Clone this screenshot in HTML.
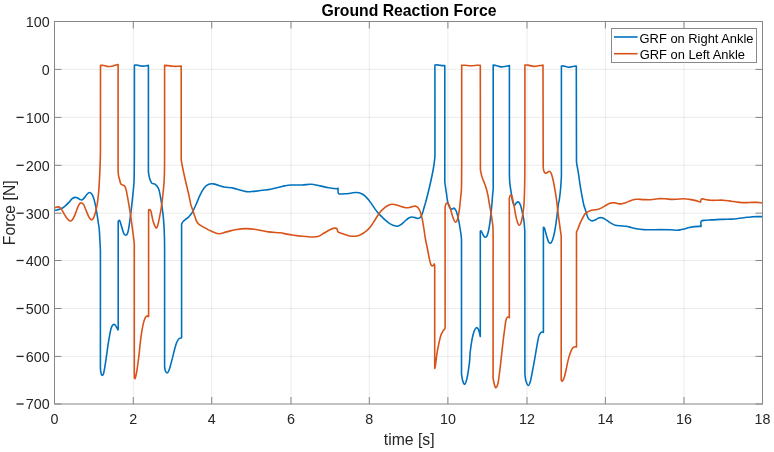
<!DOCTYPE html>
<html><head><meta charset="utf-8"><style>
html,body{margin:0;padding:0;background:#fff;}
svg{display:block;will-change:transform;}
text{font-family:"Liberation Sans", sans-serif;}
</style></head><body>
<svg width="774" height="452" viewBox="0 0 774 452">
<rect x="0" y="0" width="774" height="452" fill="#fff"/>
<g>
<line x1="133.3" y1="21.5" x2="133.3" y2="404.0" stroke="#262626" stroke-opacity="0.085" stroke-width="1"/>
<line x1="211.7" y1="21.5" x2="211.7" y2="404.0" stroke="#262626" stroke-opacity="0.085" stroke-width="1"/>
<line x1="291.0" y1="21.5" x2="291.0" y2="404.0" stroke="#262626" stroke-opacity="0.085" stroke-width="1"/>
<line x1="369.3" y1="21.5" x2="369.3" y2="404.0" stroke="#262626" stroke-opacity="0.085" stroke-width="1"/>
<line x1="447.9" y1="21.5" x2="447.9" y2="404.0" stroke="#262626" stroke-opacity="0.085" stroke-width="1"/>
<line x1="527.0" y1="21.5" x2="527.0" y2="404.0" stroke="#262626" stroke-opacity="0.085" stroke-width="1"/>
<line x1="605.4" y1="21.5" x2="605.4" y2="404.0" stroke="#262626" stroke-opacity="0.085" stroke-width="1"/>
<line x1="684.0" y1="21.5" x2="684.0" y2="404.0" stroke="#262626" stroke-opacity="0.085" stroke-width="1"/>
<line x1="54.5" y1="69.4" x2="762.5" y2="69.4" stroke="#262626" stroke-opacity="0.085" stroke-width="1"/>
<line x1="54.5" y1="117.4" x2="762.5" y2="117.4" stroke="#262626" stroke-opacity="0.085" stroke-width="1"/>
<line x1="54.5" y1="165.3" x2="762.5" y2="165.3" stroke="#262626" stroke-opacity="0.085" stroke-width="1"/>
<line x1="54.5" y1="213.2" x2="762.5" y2="213.2" stroke="#262626" stroke-opacity="0.085" stroke-width="1"/>
<line x1="54.5" y1="260.5" x2="762.5" y2="260.5" stroke="#262626" stroke-opacity="0.085" stroke-width="1"/>
<line x1="54.5" y1="308.5" x2="762.5" y2="308.5" stroke="#262626" stroke-opacity="0.085" stroke-width="1"/>
<line x1="54.5" y1="356.4" x2="762.5" y2="356.4" stroke="#262626" stroke-opacity="0.085" stroke-width="1"/>
</g>
<defs><clipPath id="c"><rect x="54.5" y="21.5" width="708.0" height="382.5"/></clipPath></defs>
<g fill="none" stroke-linejoin="round" stroke-linecap="round" stroke-width="1.6" clip-path="url(#c)">
<path stroke="#0072BD" d="M54.50,210.30 C54.92,210.25 56.08,210.22 57.00,210.00 C57.92,209.78 59.02,209.37 60.00,209.00 C60.98,208.63 61.92,208.40 62.90,207.80 C63.88,207.20 64.90,206.30 65.90,205.40 C66.90,204.50 67.90,203.48 68.90,202.40 C69.90,201.32 70.90,199.73 71.90,198.90 C72.90,198.07 73.98,197.57 74.90,197.40 C75.82,197.23 76.57,197.57 77.40,197.90 C78.23,198.23 79.17,199.07 79.90,199.40 C80.63,199.73 81.07,200.15 81.80,199.90 C82.53,199.65 83.47,198.80 84.30,197.90 C85.13,197.00 85.97,195.40 86.80,194.50 C87.63,193.60 88.55,192.67 89.30,192.50 C90.05,192.33 90.72,192.93 91.30,193.50 C91.88,194.07 92.30,194.75 92.80,195.90 C93.30,197.05 93.80,198.57 94.30,200.40 C94.80,202.23 95.30,204.33 95.80,206.90 C96.30,209.47 96.88,213.15 97.30,215.80 C97.72,218.45 97.97,220.43 98.30,222.80 C98.63,225.17 98.95,225.47 99.30,230.00 C99.65,234.53 100.22,246.67 100.40,250.00 L100.40,368.00 C100.48,368.75 100.63,371.28 100.90,372.50 C101.17,373.72 101.57,375.10 102.00,375.30 C102.43,375.50 103.00,375.25 103.50,373.70 C104.00,372.15 104.48,369.08 105.00,366.00 C105.52,362.92 106.08,358.80 106.60,355.20 C107.12,351.60 107.58,347.75 108.10,344.40 C108.62,341.05 109.18,337.82 109.70,335.10 C110.22,332.38 110.62,329.85 111.20,328.10 C111.78,326.35 112.60,325.18 113.20,324.60 C113.80,324.02 114.23,324.13 114.80,324.60 C115.37,325.07 116.08,326.55 116.60,327.40 C117.12,328.25 117.63,329.32 117.90,329.70 C118.17,330.08 118.15,329.70 118.20,329.70 L118.20,221.50 C118.45,221.35 119.13,219.77 119.70,220.60 C120.27,221.43 120.95,224.40 121.60,226.50 C122.25,228.60 122.93,231.75 123.60,233.20 C124.27,234.65 124.93,235.20 125.60,235.20 C126.27,235.20 127.03,234.65 127.60,233.20 C128.17,231.75 128.55,229.17 129.00,226.50 C129.45,223.83 129.87,220.52 130.30,217.20 C130.73,213.88 131.15,210.58 131.60,206.60 C132.05,202.62 132.58,197.73 133.00,193.30 C133.42,188.87 133.87,187.22 134.10,180.00 C134.33,172.78 134.35,155.00 134.40,150.00 L134.40,65.20 C134.83,65.17 135.90,64.87 137.00,65.00 C138.10,65.13 139.67,65.83 141.00,66.00 C142.33,66.17 143.77,66.10 145.00,66.00 C146.23,65.90 147.83,65.50 148.40,65.40 L148.40,172.00 C148.62,173.13 149.12,176.93 149.70,178.80 C150.28,180.67 150.97,182.28 151.90,183.20 C152.83,184.12 154.18,183.38 155.30,184.30 C156.42,185.22 157.68,186.30 158.60,188.70 C159.52,191.10 160.07,194.45 160.80,198.70 C161.53,202.95 162.45,209.42 163.00,214.20 C163.55,218.98 163.85,223.10 164.10,227.40 C164.35,231.70 164.42,236.23 164.50,240.00 C164.58,243.77 164.58,248.33 164.60,250.00 L164.60,366.00 C164.70,366.75 164.75,369.33 165.20,370.50 C165.65,371.67 166.65,373.08 167.30,373.00 C167.95,372.92 168.50,371.52 169.10,370.00 C169.70,368.48 170.28,366.13 170.90,363.90 C171.52,361.67 172.18,359.03 172.80,356.60 C173.42,354.17 174.00,351.53 174.60,349.30 C175.20,347.07 175.80,344.82 176.40,343.20 C177.00,341.58 177.60,340.45 178.20,339.60 C178.80,338.75 179.43,338.40 180.00,338.10 C180.57,337.80 181.33,337.85 181.60,337.80 L181.60,224.50 C181.70,224.22 181.93,223.30 182.20,222.80 C182.47,222.30 182.63,222.08 183.20,221.50 C183.77,220.92 184.75,220.00 185.60,219.30 C186.45,218.60 187.42,218.13 188.30,217.30 C189.18,216.47 190.13,215.30 190.90,214.30 C191.67,213.30 192.23,212.52 192.90,211.30 C193.57,210.08 194.30,208.30 194.90,207.00 C195.50,205.70 195.67,205.43 196.50,203.50 C197.33,201.57 198.60,198.03 199.90,195.40 C201.20,192.77 202.82,189.55 204.30,187.70 C205.78,185.85 207.32,184.93 208.80,184.30 C210.28,183.67 211.55,183.72 213.20,183.90 C214.85,184.08 216.87,184.88 218.70,185.40 C220.53,185.92 221.80,186.55 224.20,187.00 C226.60,187.45 230.52,187.62 233.10,188.10 C235.68,188.58 237.48,189.32 239.70,189.90 C241.92,190.48 244.18,191.35 246.40,191.60 C248.62,191.85 250.42,191.62 253.00,191.40 C255.58,191.18 258.95,190.67 261.90,190.30 C264.85,189.93 267.68,189.75 270.70,189.20 C273.72,188.65 277.72,187.55 280.00,187.00 C282.28,186.45 282.55,186.23 284.40,185.90 C286.25,185.57 288.15,185.15 291.10,185.00 C294.05,184.85 298.78,185.12 302.10,185.00 C305.42,184.88 308.05,184.15 311.00,184.30 C313.95,184.45 316.85,185.33 319.80,185.90 C322.75,186.47 325.82,187.22 328.70,187.70 C331.58,188.18 335.55,188.70 337.10,188.80 C338.65,188.90 337.75,187.50 338.00,188.30 C338.25,189.10 337.57,192.68 338.60,193.60 C339.63,194.52 342.17,193.87 344.20,193.80 C346.23,193.73 349.00,193.42 350.80,193.20 C352.60,192.98 353.63,192.57 355.00,192.50 C356.37,192.43 357.67,192.47 359.00,192.80 C360.33,193.13 361.68,193.65 363.00,194.50 C364.32,195.35 365.58,196.50 366.90,197.90 C368.22,199.30 369.57,201.07 370.90,202.90 C372.23,204.73 373.57,207.07 374.90,208.90 C376.23,210.73 377.57,212.42 378.90,213.90 C380.23,215.38 381.88,216.82 382.90,217.80 C383.92,218.78 383.92,218.88 385.00,219.80 C386.08,220.72 387.93,222.35 389.40,223.30 C390.87,224.25 392.47,225.02 393.80,225.50 C395.13,225.98 396.22,226.35 397.40,226.20 C398.58,226.05 399.72,225.38 400.90,224.60 C402.08,223.82 403.32,222.52 404.50,221.50 C405.68,220.48 406.83,219.25 408.00,218.50 C409.17,217.75 410.32,217.15 411.50,217.00 C412.68,216.85 414.07,217.35 415.10,217.60 C416.13,217.85 416.88,218.50 417.70,218.50 C418.52,218.50 419.40,218.05 420.00,217.60 C420.60,217.15 420.87,216.62 421.30,215.80 C421.73,214.98 422.17,213.95 422.60,212.70 C423.03,211.45 423.38,210.08 423.90,208.30 C424.42,206.52 425.10,204.17 425.70,202.00 C426.30,199.83 426.87,197.80 427.50,195.30 C428.13,192.80 428.83,189.88 429.50,187.00 C430.17,184.12 430.87,181.00 431.50,178.00 C432.13,175.00 432.75,172.33 433.30,169.00 C433.85,165.67 434.53,161.17 434.80,158.00 C435.07,154.83 434.93,151.33 434.95,150.00 L434.90,65.00 C435.17,64.97 435.65,64.75 436.50,64.80 C437.35,64.85 439.00,65.17 440.00,65.30 C441.00,65.43 441.70,65.55 442.50,65.60 C443.30,65.65 444.42,65.60 444.80,65.60 L444.80,182.10 C445.07,183.95 445.95,190.07 446.40,193.20 C446.85,196.33 446.95,198.50 447.50,200.90 C448.05,203.30 448.97,206.23 449.70,207.60 C450.43,208.97 451.17,209.00 451.90,209.10 C452.63,209.20 453.37,207.83 454.10,208.20 C454.83,208.57 455.57,209.38 456.30,211.30 C457.03,213.22 457.75,216.08 458.50,219.70 C459.25,223.32 460.30,229.68 460.80,233.00 C461.30,236.32 461.38,238.50 461.50,239.60 L461.50,373.80 C461.67,374.83 462.02,378.23 462.50,380.00 C462.98,381.77 463.68,384.55 464.40,384.40 C465.12,384.25 465.97,382.63 466.80,379.10 C467.63,375.57 468.83,367.72 469.40,363.20 C469.97,358.68 469.75,356.02 470.20,352.00 C470.65,347.98 471.45,342.57 472.10,339.10 C472.75,335.63 473.43,333.08 474.10,331.20 C474.77,329.32 475.47,328.25 476.10,327.80 C476.73,327.35 477.35,327.72 477.90,328.50 C478.45,329.28 479.00,331.17 479.40,332.50 C479.80,333.83 480.15,335.83 480.30,336.50 L480.30,231.20 C480.47,231.20 480.80,230.53 481.30,231.20 C481.80,231.87 482.63,234.20 483.30,235.20 C483.97,236.20 484.68,237.08 485.30,237.20 C485.92,237.32 486.45,237.02 487.00,235.90 C487.55,234.78 488.12,232.72 488.60,230.50 C489.08,228.28 489.50,225.47 489.90,222.60 C490.30,219.73 490.67,216.40 491.00,213.30 C491.33,210.20 491.63,207.05 491.90,204.00 C492.17,200.95 492.38,197.37 492.60,195.00 C492.82,192.63 493.10,190.67 493.20,189.80 L493.20,65.10 C493.67,65.17 494.70,65.20 496.00,65.50 C497.30,65.80 499.33,66.77 501.00,66.90 C502.67,67.03 504.60,66.52 506.00,66.30 C507.40,66.08 508.83,65.72 509.40,65.60 L509.40,173.90 C509.47,175.45 509.50,180.10 509.80,183.20 C510.10,186.30 510.75,189.53 511.20,192.50 C511.65,195.47 511.95,198.87 512.50,201.00 C513.05,203.13 513.83,205.02 514.50,205.30 C515.17,205.58 515.83,203.25 516.50,202.70 C517.17,202.15 517.83,201.57 518.50,202.00 C519.17,202.43 519.83,203.42 520.50,205.30 C521.17,207.18 521.95,210.87 522.50,213.30 C523.05,215.73 523.42,217.03 523.80,219.90 C524.18,222.77 524.63,228.73 524.80,230.50 L524.90,374.00 C525.05,375.08 525.23,378.58 525.80,380.50 C526.37,382.42 527.53,385.37 528.30,385.50 C529.07,385.63 529.77,383.38 530.40,381.30 C531.03,379.22 531.55,375.77 532.10,373.00 C532.65,370.23 533.15,367.73 533.70,364.70 C534.25,361.67 534.83,358.10 535.40,354.80 C535.97,351.50 536.55,347.93 537.10,344.90 C537.65,341.87 538.15,338.53 538.70,336.60 C539.25,334.67 539.85,334.05 540.40,333.30 C540.95,332.55 541.50,332.25 542.00,332.10 C542.50,331.95 543.17,332.35 543.40,332.40 L543.40,227.20 C543.60,227.43 544.07,227.15 544.60,228.60 C545.13,230.05 545.93,233.70 546.60,235.90 C547.27,238.10 547.93,240.58 548.60,241.80 C549.27,243.02 549.93,243.53 550.60,243.20 C551.27,242.87 551.93,241.68 552.60,239.80 C553.27,237.92 553.98,235.00 554.60,231.90 C555.22,228.80 555.80,224.75 556.30,221.20 C556.80,217.65 557.22,213.68 557.60,210.60 C557.98,207.52 558.33,204.38 558.60,202.70 C558.87,201.02 558.88,202.65 559.20,200.50 C559.52,198.35 560.13,193.78 560.50,189.80 C560.87,185.82 561.25,178.80 561.40,176.60 L561.40,66.00 C561.83,66.00 562.82,65.78 564.00,66.00 C565.18,66.22 567.00,67.22 568.50,67.30 C570.00,67.38 571.70,66.72 573.00,66.50 C574.30,66.28 575.75,66.08 576.30,66.00 L576.50,162.00 C576.60,162.65 576.77,163.92 577.10,165.90 C577.43,167.88 578.05,171.02 578.50,173.90 C578.95,176.78 579.37,180.32 579.80,183.20 C580.23,186.08 580.65,188.65 581.10,191.20 C581.55,193.75 582.05,196.20 582.50,198.50 C582.95,200.80 583.25,202.92 583.80,205.00 C584.35,207.08 585.10,208.87 585.80,211.00 C586.50,213.13 587.05,216.17 588.00,217.80 C588.95,219.43 590.33,220.42 591.50,220.80 C592.67,221.18 593.82,220.55 595.00,220.10 C596.18,219.65 597.42,218.48 598.60,218.10 C599.78,217.72 600.78,217.47 602.10,217.80 C603.42,218.13 605.02,219.22 606.50,220.10 C607.98,220.98 609.52,222.25 611.00,223.10 C612.48,223.95 613.78,224.75 615.40,225.20 C617.02,225.65 618.93,225.62 620.70,225.80 C622.47,225.98 624.23,226.02 626.00,226.30 C627.77,226.58 629.53,227.08 631.30,227.50 C633.07,227.92 634.53,228.45 636.60,228.80 C638.67,229.15 641.33,229.43 643.70,229.60 C646.07,229.77 648.15,229.80 650.80,229.80 C653.45,229.80 656.40,229.60 659.60,229.60 C662.80,229.60 667.08,229.70 670.00,229.80 C672.92,229.90 675.33,230.20 677.10,230.20 C678.87,230.20 679.42,230.02 680.60,229.80 C681.78,229.58 682.72,229.28 684.20,228.90 C685.68,228.52 687.73,227.88 689.50,227.50 C691.27,227.12 693.03,226.80 694.80,226.60 C696.57,226.40 699.07,226.35 700.10,226.30 C701.13,226.25 700.82,227.15 701.00,226.30 C701.18,225.45 700.47,222.20 701.20,221.20 C701.93,220.20 703.82,220.52 705.40,220.30 C706.98,220.08 708.93,220.02 710.70,219.90 C712.47,219.78 714.28,219.68 716.00,219.60 C717.72,219.52 719.33,219.45 721.00,219.40 C722.67,219.35 724.28,219.35 726.00,219.30 C727.72,219.25 729.55,219.20 731.30,219.10 C733.05,219.00 734.77,218.88 736.50,218.70 C738.23,218.52 739.95,218.23 741.70,218.00 C743.45,217.77 745.28,217.48 747.00,217.30 C748.72,217.12 750.33,217.02 752.00,216.90 C753.67,216.78 755.27,216.63 757.00,216.60 C758.73,216.57 761.50,216.68 762.40,216.70"/>
<path stroke="#D95319" d="M54.50,207.90 C54.75,207.78 55.42,207.37 56.00,207.20 C56.58,207.03 57.33,206.82 58.00,206.90 C58.67,206.98 59.35,207.20 60.00,207.70 C60.65,208.20 61.17,208.78 61.90,209.90 C62.63,211.02 63.57,213.00 64.40,214.40 C65.23,215.80 65.98,217.20 66.90,218.30 C67.82,219.40 68.98,220.75 69.90,221.00 C70.82,221.25 71.57,220.82 72.40,219.80 C73.23,218.78 73.98,217.05 74.90,214.90 C75.82,212.75 77.07,208.82 77.90,206.90 C78.73,204.98 79.25,204.07 79.90,203.40 C80.55,202.73 81.15,202.65 81.80,202.90 C82.45,203.15 83.05,203.57 83.80,204.90 C84.55,206.23 85.47,208.92 86.30,210.90 C87.13,212.88 87.97,215.32 88.80,216.80 C89.63,218.28 90.55,219.55 91.30,219.80 C92.05,220.05 92.63,219.45 93.30,218.30 C93.97,217.15 94.78,214.62 95.30,212.90 C95.82,211.18 96.07,209.53 96.40,208.00 C96.73,206.47 96.95,206.05 97.30,203.70 C97.65,201.35 98.18,197.17 98.50,193.90 C98.82,190.63 99.00,187.35 99.20,184.10 C99.40,180.85 99.53,178.05 99.70,174.40 C99.87,170.75 100.08,166.27 100.20,162.20 C100.33,158.13 100.41,152.03 100.45,150.00 L100.50,65.40 C101.08,65.42 102.75,65.32 104.00,65.50 C105.25,65.68 106.50,66.42 108.00,66.50 C109.50,66.58 111.50,66.28 113.00,66.00 C114.50,65.72 116.15,65.05 117.00,64.80 C117.85,64.55 117.92,64.55 118.10,64.50 L118.10,171.00 C118.18,171.83 118.33,174.50 118.60,176.00 C118.87,177.50 119.42,178.88 119.70,180.00 C119.98,181.12 119.98,181.92 120.30,182.70 C120.62,183.48 121.05,184.27 121.60,184.70 C122.15,185.13 123.03,184.98 123.60,185.30 C124.17,185.62 124.55,185.72 125.00,186.60 C125.45,187.48 125.87,188.82 126.30,190.60 C126.73,192.38 127.15,194.85 127.60,197.30 C128.05,199.75 128.55,202.65 129.00,205.30 C129.45,207.95 129.87,210.32 130.30,213.20 C130.73,216.08 131.15,219.27 131.60,222.60 C132.05,225.93 132.62,230.30 133.00,233.20 C133.38,236.10 133.68,238.03 133.90,240.00 C134.12,241.97 134.23,243.33 134.30,245.00 C134.37,246.67 134.30,249.17 134.30,250.00 L134.30,377.00 C134.42,377.25 134.63,379.17 135.00,378.50 C135.37,377.83 135.88,376.50 136.50,373.00 C137.12,369.50 137.97,363.40 138.70,357.50 C139.43,351.60 140.17,343.13 140.90,337.60 C141.63,332.07 142.37,327.62 143.10,324.30 C143.83,320.98 144.63,319.10 145.30,317.70 C145.97,316.30 146.62,316.08 147.10,315.90 C147.58,315.72 147.95,316.48 148.20,316.60 C148.45,316.72 148.53,316.60 148.60,316.60 L148.60,209.70 C148.97,209.88 150.07,208.95 150.80,210.80 C151.53,212.65 152.18,218.03 153.00,220.80 C153.82,223.57 154.95,226.48 155.70,227.40 C156.45,228.32 156.83,228.13 157.50,226.30 C158.17,224.47 159.08,219.45 159.70,216.40 C160.32,213.35 160.73,211.07 161.20,208.00 C161.67,204.93 162.12,201.17 162.50,198.00 C162.88,194.83 163.23,191.75 163.50,189.00 C163.77,186.25 163.93,184.67 164.10,181.50 C164.27,178.33 164.42,175.25 164.50,170.00 C164.58,164.75 164.58,153.33 164.60,150.00 L164.60,65.40 C165.17,65.43 166.60,65.45 168.00,65.60 C169.40,65.75 171.33,66.18 173.00,66.30 C174.67,66.42 176.63,66.35 178.00,66.30 C179.37,66.25 180.67,66.05 181.20,66.00 L181.20,160.00 C181.42,161.17 181.95,164.25 182.50,167.00 C183.05,169.75 183.83,173.50 184.50,176.50 C185.17,179.50 185.83,182.17 186.50,185.00 C187.17,187.83 187.92,190.92 188.50,193.50 C189.08,196.08 189.60,198.58 190.00,200.50 C190.40,202.42 190.52,203.58 190.90,205.00 C191.28,206.42 191.85,207.67 192.30,209.00 C192.75,210.33 193.17,211.73 193.60,213.00 C194.03,214.27 194.47,215.38 194.90,216.60 C195.33,217.82 195.70,219.20 196.20,220.30 C196.70,221.40 197.23,222.38 197.90,223.20 C198.57,224.02 199.37,224.58 200.20,225.20 C201.03,225.82 202.10,226.45 202.90,226.90 C203.70,227.35 204.15,227.45 205.00,227.90 C205.85,228.35 207.00,229.08 208.00,229.60 C209.00,230.12 209.22,230.32 211.00,231.00 C212.78,231.68 216.12,233.55 218.70,233.70 C221.28,233.85 223.73,232.57 226.50,231.90 C229.27,231.23 231.98,230.25 235.30,229.70 C238.62,229.15 242.72,228.60 246.40,228.60 C250.08,228.60 253.72,229.15 257.40,229.70 C261.08,230.25 264.73,231.38 268.50,231.90 C272.27,232.42 276.98,232.43 280.00,232.80 C283.02,233.17 284.38,233.70 286.60,234.10 C288.82,234.50 290.72,234.83 293.30,235.20 C295.88,235.57 298.78,236.00 302.10,236.30 C305.42,236.60 310.43,237.00 313.20,237.00 C315.97,237.00 316.87,236.97 318.70,236.30 C320.53,235.63 322.17,234.18 324.20,233.00 C326.23,231.82 329.05,230.02 330.90,229.20 C332.75,228.38 334.27,228.13 335.30,228.10 C336.33,228.07 336.65,228.37 337.10,229.00 C337.55,229.63 337.20,231.15 338.00,231.90 C338.80,232.65 340.13,232.87 341.90,233.50 C343.67,234.13 346.57,235.23 348.60,235.70 C350.63,236.17 352.27,236.38 354.10,236.30 C355.93,236.22 357.75,235.93 359.60,235.20 C361.45,234.47 363.35,233.37 365.20,231.90 C367.05,230.43 369.05,228.43 370.70,226.40 C372.35,224.37 373.55,222.05 375.10,219.70 C376.65,217.35 378.35,214.35 380.00,212.30 C381.65,210.25 383.58,208.58 385.00,207.40 C386.42,206.22 387.32,205.72 388.50,205.20 C389.68,204.68 390.92,204.38 392.10,204.30 C393.28,204.22 394.42,204.45 395.60,204.70 C396.78,204.95 398.02,205.43 399.20,205.80 C400.38,206.17 401.38,206.57 402.70,206.90 C404.02,207.23 405.63,207.80 407.10,207.80 C408.57,207.80 410.17,207.18 411.50,206.90 C412.83,206.62 414.07,206.02 415.10,206.10 C416.13,206.18 416.97,206.75 417.70,207.40 C418.43,208.05 418.98,208.97 419.50,210.00 C420.02,211.03 420.35,212.12 420.80,213.60 C421.25,215.08 421.68,216.40 422.20,218.90 C422.72,221.40 423.47,225.92 423.90,228.60 C424.33,231.28 424.52,233.10 424.80,235.00 C425.08,236.90 425.23,238.07 425.60,240.00 C425.97,241.93 426.55,244.38 427.00,246.60 C427.45,248.82 427.87,251.08 428.30,253.30 C428.73,255.52 429.17,258.02 429.60,259.90 C430.03,261.78 430.45,263.60 430.90,264.60 C431.35,265.60 431.85,265.80 432.30,265.90 C432.75,266.00 433.27,265.53 433.60,265.20 C433.93,264.87 434.12,263.78 434.30,263.90 C434.48,264.02 434.63,265.57 434.70,265.90 L434.70,368.50 C434.85,367.83 435.23,366.93 435.60,364.50 C435.97,362.07 436.35,357.43 436.90,353.90 C437.45,350.37 438.23,346.40 438.90,343.30 C439.57,340.20 440.23,337.30 440.90,335.30 C441.57,333.30 442.35,332.27 442.90,331.30 C443.45,330.33 443.83,329.97 444.20,329.50 C444.57,329.03 444.95,328.67 445.10,328.50 L445.10,207.00 C445.32,206.35 445.82,203.57 446.40,203.10 C446.98,202.63 447.93,203.27 448.60,204.20 C449.27,205.13 449.73,206.67 450.40,208.70 C451.07,210.73 451.80,214.20 452.60,216.40 C453.40,218.60 454.40,221.35 455.20,221.90 C456.00,222.45 456.73,221.53 457.40,219.70 C458.07,217.87 458.75,213.68 459.20,210.90 C459.65,208.12 459.83,205.48 460.10,203.00 C460.37,200.52 460.58,198.17 460.80,196.00 C461.02,193.83 461.27,192.67 461.40,190.00 C461.53,187.33 461.55,185.00 461.60,180.00 C461.65,175.00 461.68,163.33 461.70,160.00 L461.70,65.30 C462.25,65.30 463.45,65.22 465.00,65.30 C466.55,65.38 469.00,65.80 471.00,65.80 C473.00,65.80 475.45,65.38 477.00,65.30 C478.55,65.22 479.75,65.30 480.30,65.30 L480.40,169.90 C480.65,171.02 481.32,174.60 481.90,176.60 C482.48,178.60 483.23,180.13 483.90,181.90 C484.57,183.67 485.23,184.98 485.90,187.20 C486.57,189.42 487.35,192.57 487.90,195.20 C488.45,197.83 488.77,200.53 489.20,203.00 C489.63,205.47 490.12,207.83 490.50,210.00 C490.88,212.17 491.15,213.68 491.50,216.00 C491.85,218.32 492.33,221.25 492.60,223.90 C492.87,226.55 493.02,225.88 493.10,231.90 C493.18,237.92 493.10,255.32 493.10,260.00 L493.10,378.50 C493.33,379.58 494.03,383.45 494.50,385.00 C494.97,386.55 495.33,388.00 495.90,387.80 C496.47,387.60 497.33,386.02 497.90,383.80 C498.47,381.58 498.85,377.82 499.30,374.50 C499.75,371.18 500.17,367.65 500.60,363.90 C501.03,360.15 501.47,355.90 501.90,352.00 C502.33,348.10 502.78,343.97 503.20,340.50 C503.62,337.03 503.95,334.53 504.40,331.20 C504.85,327.87 505.37,322.83 505.90,320.50 C506.43,318.17 507.03,317.68 507.60,317.20 C508.17,316.72 509.02,317.53 509.30,317.60 L509.30,197.80 C509.50,197.37 510.08,195.53 510.50,195.20 C510.92,194.87 511.35,194.70 511.80,195.80 C512.25,196.90 512.75,199.70 513.20,201.80 C513.65,203.90 514.07,206.05 514.50,208.40 C514.93,210.75 515.25,213.43 515.80,215.90 C516.35,218.37 517.20,221.65 517.80,223.20 C518.40,224.75 518.85,225.30 519.40,225.20 C519.95,225.10 520.58,224.15 521.10,222.60 C521.62,221.05 522.05,218.57 522.50,215.90 C522.95,213.23 523.48,210.08 523.80,206.60 C524.12,203.12 524.23,200.00 524.40,195.00 C524.57,190.00 524.72,184.10 524.80,176.60 C524.88,169.10 524.88,154.43 524.90,150.00 L524.90,65.10 C525.42,65.10 526.48,64.88 528.00,65.10 C529.52,65.32 532.00,66.33 534.00,66.40 C536.00,66.47 538.50,65.72 540.00,65.50 C541.50,65.28 542.50,65.17 543.00,65.10 L543.20,167.30 C543.32,167.95 543.55,170.22 543.90,171.20 C544.25,172.18 544.73,172.97 545.30,173.20 C545.87,173.43 546.63,172.93 547.30,172.60 C547.97,172.27 548.65,171.10 549.30,171.20 C549.95,171.30 550.55,171.65 551.20,173.20 C551.85,174.75 552.53,177.50 553.20,180.50 C553.87,183.50 554.63,187.87 555.20,191.20 C555.77,194.53 556.22,197.63 556.60,200.50 C556.98,203.37 557.17,205.60 557.50,208.40 C557.83,211.20 558.20,214.27 558.60,217.30 C559.00,220.33 559.47,223.50 559.90,226.60 C560.33,229.70 560.98,234.35 561.20,235.90 L561.20,379.80 C561.38,380.03 561.78,381.63 562.30,381.20 C562.82,380.77 563.65,379.20 564.30,377.20 C564.95,375.20 565.55,372.08 566.20,369.20 C566.85,366.32 567.53,362.55 568.20,359.90 C568.87,357.25 569.53,355.18 570.20,353.30 C570.87,351.42 571.53,349.67 572.20,348.60 C572.87,347.53 573.48,347.18 574.20,346.90 C574.92,346.62 576.12,346.90 576.50,346.90 L576.50,231.90 C576.72,231.45 577.25,230.53 577.80,229.20 C578.35,227.87 579.13,225.50 579.80,223.90 C580.47,222.30 581.18,220.83 581.80,219.60 C582.42,218.37 582.97,217.45 583.50,216.50 C584.03,215.55 584.20,214.72 585.00,213.90 C585.80,213.08 587.20,212.22 588.30,211.60 C589.40,210.98 590.48,210.50 591.60,210.20 C592.72,209.90 593.88,209.97 595.00,209.80 C596.12,209.63 597.20,209.52 598.30,209.20 C599.40,208.88 600.50,208.45 601.60,207.90 C602.70,207.35 603.80,206.57 604.90,205.90 C606.00,205.23 607.10,204.40 608.20,203.90 C609.30,203.40 610.38,203.07 611.50,202.90 C612.62,202.73 613.78,202.78 614.90,202.90 C616.02,203.02 617.10,203.43 618.20,203.60 C619.30,203.77 620.37,204.02 621.50,203.90 C622.63,203.78 623.37,203.48 625.00,202.90 C626.63,202.32 629.37,201.02 631.30,200.40 C633.23,199.78 634.53,199.33 636.60,199.20 C638.67,199.07 641.33,199.52 643.70,199.60 C646.07,199.68 648.43,199.85 650.80,199.70 C653.17,199.55 655.53,198.85 657.90,198.70 C660.27,198.55 662.65,198.68 665.00,198.80 C667.35,198.92 669.98,199.33 672.00,199.40 C674.02,199.47 675.07,199.30 677.10,199.20 C679.13,199.10 682.13,198.77 684.20,198.80 C686.27,198.83 687.73,199.13 689.50,199.40 C691.27,199.67 693.03,199.98 694.80,200.40 C696.57,200.82 699.13,201.70 700.10,201.90 C701.07,202.10 700.42,202.03 700.60,201.60 C700.78,201.17 700.85,199.75 701.20,199.30 C701.55,198.85 701.90,198.85 702.70,198.90 C703.50,198.95 704.67,199.37 706.00,199.60 C707.33,199.83 709.03,200.18 710.70,200.30 C712.37,200.42 714.28,200.33 716.00,200.30 C717.72,200.27 719.33,200.07 721.00,200.10 C722.67,200.13 724.28,200.32 726.00,200.50 C727.72,200.68 729.55,200.95 731.30,201.20 C733.05,201.45 734.77,201.77 736.50,202.00 C738.23,202.23 739.95,202.50 741.70,202.60 C743.45,202.70 745.28,202.63 747.00,202.60 C748.72,202.57 750.33,202.43 752.00,202.40 C753.67,202.37 755.27,202.32 757.00,202.40 C758.73,202.48 761.50,202.82 762.40,202.90"/>
</g>
<g stroke="#868686" stroke-width="1">
<rect x="54.5" y="21.5" width="708.0" height="382.5" fill="none"/>
<line x1="54.5" y1="404.0" x2="54.5" y2="397.0"/>
<line x1="54.5" y1="21.5" x2="54.5" y2="28.5"/>
<line x1="133.3" y1="404.0" x2="133.3" y2="397.0"/>
<line x1="133.3" y1="21.5" x2="133.3" y2="28.5"/>
<line x1="211.7" y1="404.0" x2="211.7" y2="397.0"/>
<line x1="211.7" y1="21.5" x2="211.7" y2="28.5"/>
<line x1="291.0" y1="404.0" x2="291.0" y2="397.0"/>
<line x1="291.0" y1="21.5" x2="291.0" y2="28.5"/>
<line x1="369.3" y1="404.0" x2="369.3" y2="397.0"/>
<line x1="369.3" y1="21.5" x2="369.3" y2="28.5"/>
<line x1="447.9" y1="404.0" x2="447.9" y2="397.0"/>
<line x1="447.9" y1="21.5" x2="447.9" y2="28.5"/>
<line x1="527.0" y1="404.0" x2="527.0" y2="397.0"/>
<line x1="527.0" y1="21.5" x2="527.0" y2="28.5"/>
<line x1="605.4" y1="404.0" x2="605.4" y2="397.0"/>
<line x1="605.4" y1="21.5" x2="605.4" y2="28.5"/>
<line x1="684.0" y1="404.0" x2="684.0" y2="397.0"/>
<line x1="684.0" y1="21.5" x2="684.0" y2="28.5"/>
<line x1="762.5" y1="404.0" x2="762.5" y2="397.0"/>
<line x1="762.5" y1="21.5" x2="762.5" y2="28.5"/>
<line x1="54.5" y1="21.5" x2="61.5" y2="21.5"/>
<line x1="762.5" y1="21.5" x2="755.5" y2="21.5"/>
<line x1="54.5" y1="69.4" x2="61.5" y2="69.4"/>
<line x1="762.5" y1="69.4" x2="755.5" y2="69.4"/>
<line x1="54.5" y1="117.4" x2="61.5" y2="117.4"/>
<line x1="762.5" y1="117.4" x2="755.5" y2="117.4"/>
<line x1="54.5" y1="165.3" x2="61.5" y2="165.3"/>
<line x1="762.5" y1="165.3" x2="755.5" y2="165.3"/>
<line x1="54.5" y1="213.2" x2="61.5" y2="213.2"/>
<line x1="762.5" y1="213.2" x2="755.5" y2="213.2"/>
<line x1="54.5" y1="260.5" x2="61.5" y2="260.5"/>
<line x1="762.5" y1="260.5" x2="755.5" y2="260.5"/>
<line x1="54.5" y1="308.5" x2="61.5" y2="308.5"/>
<line x1="762.5" y1="308.5" x2="755.5" y2="308.5"/>
<line x1="54.5" y1="356.4" x2="61.5" y2="356.4"/>
<line x1="762.5" y1="356.4" x2="755.5" y2="356.4"/>
<line x1="54.5" y1="404.0" x2="61.5" y2="404.0"/>
<line x1="762.5" y1="404.0" x2="755.5" y2="404.0"/>
</g>
<g fill="#262626" font-size="14.3">
<text x="54.50" y="423.6" text-anchor="middle">0</text>
<text x="133.30" y="423.6" text-anchor="middle">2</text>
<text x="211.70" y="423.6" text-anchor="middle">4</text>
<text x="291.00" y="423.6" text-anchor="middle">6</text>
<text x="369.30" y="423.6" text-anchor="middle">8</text>
<text x="447.90" y="423.6" text-anchor="middle">10</text>
<text x="527.00" y="423.6" text-anchor="middle">12</text>
<text x="605.40" y="423.6" text-anchor="middle">14</text>
<text x="684.00" y="423.6" text-anchor="middle">16</text>
<text x="762.50" y="423.6" text-anchor="middle">18</text>
<text x="49.7" y="26.95" text-anchor="end">100</text>
<text x="49.7" y="74.85" text-anchor="end">0</text>
<text x="49.7" y="122.85" text-anchor="end">100</text>
<rect x="16.5" y="116.75" width="7.2" height="1.3"/>
<text x="49.7" y="170.75" text-anchor="end">200</text>
<rect x="16.5" y="164.65" width="7.2" height="1.3"/>
<text x="49.7" y="218.65" text-anchor="end">300</text>
<rect x="16.5" y="212.55" width="7.2" height="1.3"/>
<text x="49.7" y="265.95" text-anchor="end">400</text>
<rect x="16.5" y="259.85" width="7.2" height="1.3"/>
<text x="49.7" y="313.95" text-anchor="end">500</text>
<rect x="16.5" y="307.85" width="7.2" height="1.3"/>
<text x="49.7" y="361.85" text-anchor="end">600</text>
<rect x="16.5" y="355.75" width="7.2" height="1.3"/>
<text x="49.7" y="409.45" text-anchor="end">700</text>
<rect x="16.5" y="403.35" width="7.2" height="1.3"/>
</g>
<text x="409.00" y="16.0" text-anchor="middle" font-weight="bold" font-size="15.75" fill="#000">Ground Reaction Force</text>
<text x="409.20" y="444.5" text-anchor="middle" font-size="15.75" fill="#262626">time [s]</text>
<text transform="translate(15,212.75) rotate(-90)" text-anchor="middle" font-size="15.75" fill="#262626">Force [N]</text>
<g>
<rect x="611.5" y="28.5" width="145.2" height="33.8" fill="#fff" stroke="#8a8a8a" stroke-width="1" shape-rendering="crispEdges"/>
<line x1="614" y1="37" x2="637.6" y2="37" stroke="#0072BD" stroke-width="1.6"/>
<line x1="614" y1="53.7" x2="637.6" y2="53.7" stroke="#D95319" stroke-width="1.6"/>
<text x="639.6" y="42.7" font-size="12.9" fill="#000">GRF on Right Ankle</text>
<text x="639.7" y="58.8" font-size="12.9" fill="#000">GRF on Left Ankle</text>
</g>
</svg>
</body></html>
